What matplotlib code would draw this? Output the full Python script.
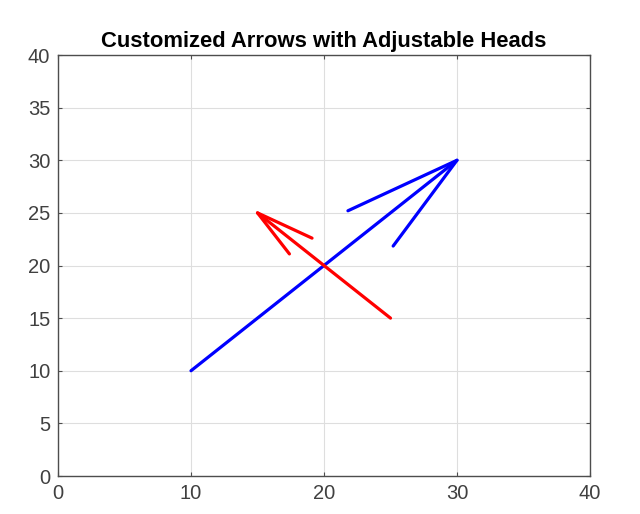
import matplotlib
matplotlib.use("Agg")
import matplotlib.pyplot as plt

# Arrow shafts: start and tip
arrow_x0 = [10, 25]
arrow_y0 = [10, 15]
arrow_x1 = [30, 15]
arrow_y1 = [30, 25]
# Head line ends (two per arrow)
head1_x = [21.8, 19.1]
head1_y = [25.2, 22.6]
head2_x = [25.2, 17.4]
head2_y = [21.85, 21.1]
colors = ['#0000ff', '#ff0000']

xticks = [0, 10, 20, 30, 40]
yticks = [0, 5, 10, 15, 20, 25, 30, 35, 40]

plt.rcParams['font.family'] = ['Liberation Sans', 'DejaVu Sans']

fig = plt.figure(figsize=(6.4, 5.14), dpi=100)
ax = fig.add_axes([58/640, 1-476/514, 532/640, 421/514])

for i in range(len(arrow_x0)):
    ax.plot([arrow_x0[i], arrow_x1[i]], [arrow_y0[i], arrow_y1[i]], color=colors[i], lw=2.3, solid_capstyle='round')
    ax.plot([head1_x[i], arrow_x1[i], head2_x[i]], [head1_y[i], arrow_y1[i], head2_y[i]],
            color=colors[i], lw=2.3, solid_capstyle='round', solid_joinstyle='round')

ax.set_xlim(0, 40)
ax.set_ylim(0, 40)
ax.set_xticks(xticks)
ax.set_yticks(yticks)
ax.grid(True, color='#dedede', lw=0.8)
ax.set_axisbelow(True)
for s in ax.spines.values():
    s.set_color('#4d4d4d')
    s.set_linewidth(1.0)
ax.tick_params(direction='in', length=3, top=True, right=True, labelsize=14.5,
               colors='#4d4d4d', labelcolor='#404040', pad=5.5)
ax.set_title('Customized Arrows with Adjustable Heads', fontsize=15.8, fontweight='bold', pad=6)

fig.savefig('out.png', dpi=100)
